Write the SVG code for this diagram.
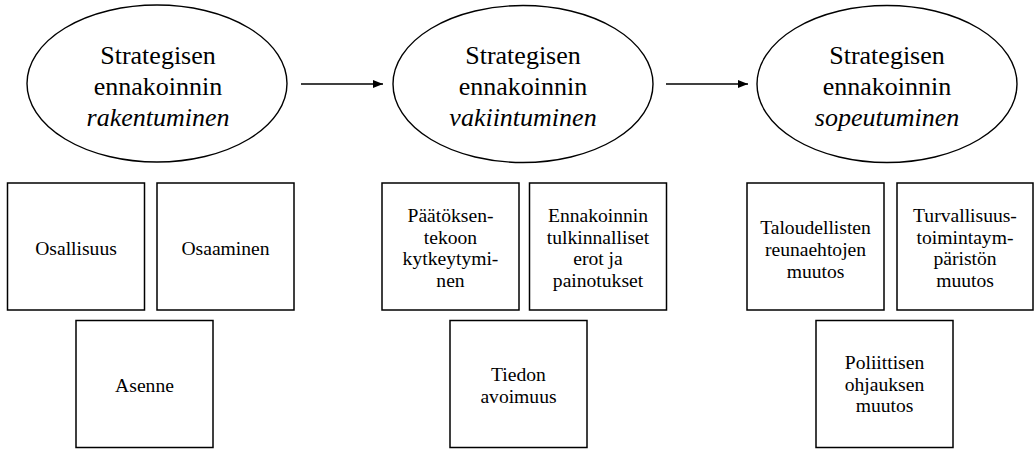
<svg xmlns="http://www.w3.org/2000/svg" width="1035" height="450" viewBox="0 0 1035 450">
<style>
.e{fill:#fff;stroke:#000;stroke-width:1.4}
.b{fill:#fff;stroke:#000;stroke-width:1.5}
text{font-family:'Liberation Serif','Times New Roman',serif;fill:#000;text-anchor:middle}
.t{font-size:26px}
.s{font-size:19.6px}
.i{font-style:italic}
.c{stroke:#000;stroke-width:1.3;fill:none}
</style>
<defs>
<marker id="ah" markerWidth="10" markerHeight="8" refX="10" refY="4" orient="auto" markerUnits="userSpaceOnUse">
<polygon points="0,0 10,4 0,8" fill="#000"/>
</marker>
</defs>
<rect width="1035" height="450" fill="#fff"/>
<g id="connectors">
<line class="c" x1="301" y1="84" x2="383" y2="84" marker-end="url(#ah)"/>
<line class="c" x1="666" y1="84" x2="748" y2="84" marker-end="url(#ah)"/>
</g>
<g id="stage1">
<ellipse class="e" cx="157" cy="83.5" rx="130" ry="78.5"/>
<text class="t" x="158" y="64">Strategisen</text>
<text class="t" x="158" y="95">ennakoinnin</text>
<text class="t i" x="158" y="126">rakentuminen</text>
</g>
<g id="stage2">
<ellipse class="e" cx="523" cy="84" rx="130" ry="78.5"/>
<text class="t" x="523" y="64">Strategisen</text>
<text class="t" x="523" y="95">ennakoinnin</text>
<text class="t i" x="523" y="126">vakiintuminen</text>
</g>
<g id="stage3">
<ellipse class="e" cx="887" cy="84" rx="130" ry="78.5"/>
<text class="t" x="887" y="64">Strategisen</text>
<text class="t" x="887" y="95">ennakoinnin</text>
<text class="t i" x="887" y="126">sopeutuminen</text>
</g>
<g id="osallisuus">
<rect class="b" x="7.5" y="183" width="137" height="127"/>
<text class="s" x="76" y="254.5">Osallisuus</text>
</g>
<g id="osaaminen">
<rect class="b" x="157" y="183" width="137" height="127"/>
<text class="s" x="225.5" y="254.5">Osaaminen</text>
</g>
<g id="asenne">
<rect class="b" x="76" y="320.5" width="137" height="127"/>
<text class="s" x="144.5" y="392">Asenne</text>
</g>
<g id="paatoksenteko">
<rect class="b" x="382" y="183" width="137" height="127"/>
<text class="s" x="450.5" y="222">Päätöksen-</text>
<text class="s" x="450.5" y="243.5">tekoon</text>
<text class="s" x="450.5" y="265">kytkeytymi-</text>
<text class="s" x="450.5" y="286.5">nen</text>
</g>
<g id="tulkinnalliset">
<rect class="b" x="529.5" y="183" width="137" height="127"/>
<text class="s" x="598" y="222">Ennakoinnin</text>
<text class="s" x="598" y="243.5">tulkinnalliset</text>
<text class="s" x="598" y="265">erot ja</text>
<text class="s" x="598" y="286.5">painotukset</text>
</g>
<g id="tiedon">
<rect class="b" x="450" y="320.5" width="137" height="127"/>
<text class="s" x="518.5" y="380.5">Tiedon</text>
<text class="s" x="518.5" y="402.5">avoimuus</text>
</g>
<g id="taloudellisten">
<rect class="b" x="747" y="183" width="137" height="127"/>
<text class="s" x="815.5" y="234">Taloudellisten</text>
<text class="s" x="815.5" y="256">reunaehtojen</text>
<text class="s" x="815.5" y="278">muutos</text>
</g>
<g id="turvallisuus">
<rect class="b" x="897" y="183" width="136" height="127"/>
<text class="s" x="965" y="222">Turvallisuus-</text>
<text class="s" x="965" y="243.5">toimintaym-</text>
<text class="s" x="965" y="265">päristön</text>
<text class="s" x="965" y="286.5">muutos</text>
</g>
<g id="poliittisen">
<rect class="b" x="816" y="320.5" width="137" height="127"/>
<text class="s" x="884.5" y="368.5">Poliittisen</text>
<text class="s" x="884.5" y="390.5">ohjauksen</text>
<text class="s" x="884.5" y="412">muutos</text>
</g>
</svg>
